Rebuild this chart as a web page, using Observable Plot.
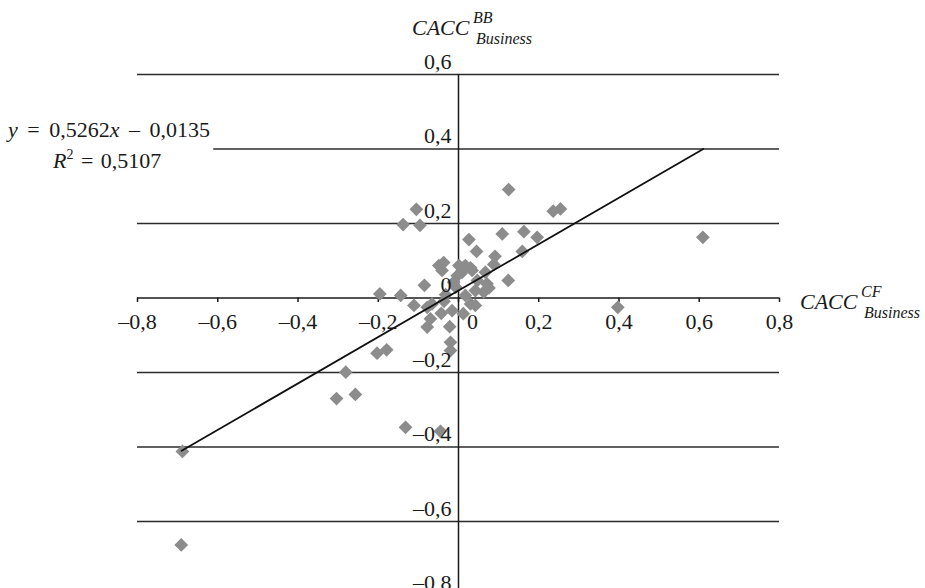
<!DOCTYPE html>
<html><head><meta charset="utf-8">
<script src="https://cdn.jsdelivr.net/npm/d3@7"></script>
<script src="https://cdn.jsdelivr.net/npm/@observablehq/plot@0.6"></script>
<style>
body{margin:0;background:#fff;}
#wrap{width:925px;height:588px;overflow:hidden;}
</style></head><body><div id="wrap"></div>
<script>
// CACC^CF_Business (x) vs CACC^BB_Business (y)
const cfX = [0.125,-0.105,-0.138,-0.096,0.236,0.254,0.026,0.109,0.163,0.196,
  0.045,0.159,0.091,0.088,-0.049,-0.037,-0.041,0.001,0.017,0.030,
  0.067,0.124,0.034,0.009,0.047,0.071,0.063,0.076,-0.085,-0.196,
  -0.144,-0.032,-0.007,-0.003,-0.012,0.042,-0.111,-0.078,-0.066,-0.036,
  0.017,0.030,0.042,-0.043,-0.016,0.012,-0.070,-0.078,-0.022,-0.020,
  -0.020,-0.203,-0.179,-0.281,-0.304,-0.257,-0.132,-0.045,-0.688,-0.691,
  0.609,0.397];
const bbY = [0.291,0.238,0.197,0.195,0.233,0.239,0.157,0.172,0.178,0.163,
  0.125,0.125,0.112,0.090,0.087,0.095,0.074,0.087,0.087,0.081,
  0.069,0.047,0.074,0.069,0.047,0.038,0.016,0.027,0.034,0.011,
  0.007,0.009,0.029,0.060,0.042,0.020,-0.020,-0.025,-0.016,-0.009,
  0.007,-0.016,-0.020,-0.041,-0.034,-0.042,-0.056,-0.078,-0.077,-0.119,
  -0.141,-0.148,-0.139,-0.199,-0.270,-0.259,-0.347,-0.358,-0.412,-0.663,
  0.163,-0.025];
const trendX = [-0.69, 0.61];
const trendY = [-0.41, 0.40];
const xTicks = [-0.8,-0.6,-0.4,-0.2,0,0.2,0.4,0.6,0.8];
const xTickLabels = ["–0,8","–0,6","–0,4","–0,2","0","0,2","0,4","0,6","0,8"];
const yTicks = [0.6,0.4,0.2,0,-0.2,-0.4,-0.6,-0.8];
const yTickLabels = ["0,6","0,4","0,2","0","–0,2","–0,4","–0,6","–0,8"];
const gridY = [0.6,0.4,0.2,-0.2,-0.4,-0.6];
const gridFrom = [-0.8,-0.61,-0.8,-0.8,-0.8,-0.8];

const points = cfX.map((x,i)=>({x, y: bbY[i]}));
const trend = trendX.map((x,i)=>({x, y: trendY[i]}));
const grid = gridY.map((y,i)=>({y, x1: gridFrom[i]}));
const xt = xTicks.map((v,i)=>({v, t: xTickLabels[i]}));
const yt = yTicks.map((v,i)=>({v, t: yTickLabels[i]}));

const ink = "#1a1a1a";
const serif = "'Liberation Serif', 'Times New Roman', serif";
const chart = Plot.plot({
  width: 925, height: 588,
  marginLeft: 137, marginRight: 146, marginTop: 74, marginBottom: 0,
  x: {domain: [-0.8, 0.8], axis: null},
  y: {domain: [-0.8, 0.6], range: [595.5, 74], axis: null},
  style: {fontFamily: serif, fontSize: "22px", background: "white", color: ink},
  marks: [
    Plot.ruleY(grid, {y: "y", x1: "x1", x2: 0.8, stroke: "#2b2b2b", strokeWidth: 1.5}),
    Plot.ruleY([0], {y: d => d, x1: -0.8, x2: 0.8, stroke: ink, strokeWidth: 1.5}),
    Plot.ruleX([0], {x: d => d, y1: -0.8, y2: 0.6, stroke: ink, strokeWidth: 1.5}),
    Plot.ruleX(xTicks, {x: d => d, y1: 0, y2: -0.012, stroke: ink, strokeWidth: 1.5}),
    Plot.dot(points, {x: "x", y: "y", symbol: "diamond2", r: 6.2, fill: "#8c8c8c", stroke: "none"}),
    Plot.line(trend, {x: "x", y: "y", stroke: "#111", strokeWidth: 1.8}),
    Plot.text(xt.filter(d => d.v !== 0), {x: "v", y: 0, text: "t", dy: 31, lineAnchor: "bottom", fill: ink}),
    Plot.text(xt.filter(d => d.v === 0), {x: "v", y: 0, text: "t", dy: 31, dx: 14, lineAnchor: "bottom", fill: ink}),
    Plot.text(yt, {x: 0, y: "v", text: "t", textAnchor: "end", dx: -7, dy: -6, lineAnchor: "bottom", fill: ink})
  ]
});
document.getElementById("wrap").appendChild(chart);

// Axis titles and regression equation
const svg = d3.select(chart);
const g = svg.append("g").attr("fill", ink).attr("font-family", serif).attr("text-anchor", "start");
function stacked(x, y, main, sup, sub) {
  g.append("text").attr("x", x).attr("y", y).attr("font-size", 22).attr("font-style", "italic").text(main);
  const w = 61;
  g.append("text").attr("x", x + w).attr("y", y - 12).attr("font-size", 16).attr("font-style", "italic").text(sup);
  g.append("text").attr("x", x + w + 3).attr("y", y + 9).attr("font-size", 16).attr("font-style", "italic").text(sub);
}
stacked(412, 35, "CACC", "BB", "Business");
stacked(800, 309, "CACC", "CF", "Business");

const eq = g.append("text").attr("x", 8).attr("y", 137).attr("font-size", 22).attr("word-spacing", 4);
eq.append("tspan").attr("font-style", "italic").text("y");
eq.append("tspan").text(" = 0,5262");
eq.append("tspan").attr("font-style", "italic").text("x");
eq.append("tspan").text(" – 0,0135");
const r2 = g.append("text").attr("x", 53).attr("y", 168).attr("font-size", 22).attr("word-spacing", 2);
r2.append("tspan").attr("font-style", "italic").text("R");
r2.append("tspan").attr("font-size", 14).attr("dy", -9).text("2");
r2.append("tspan").attr("dy", 9).text(" = 0,5107");
</script></body></html>
